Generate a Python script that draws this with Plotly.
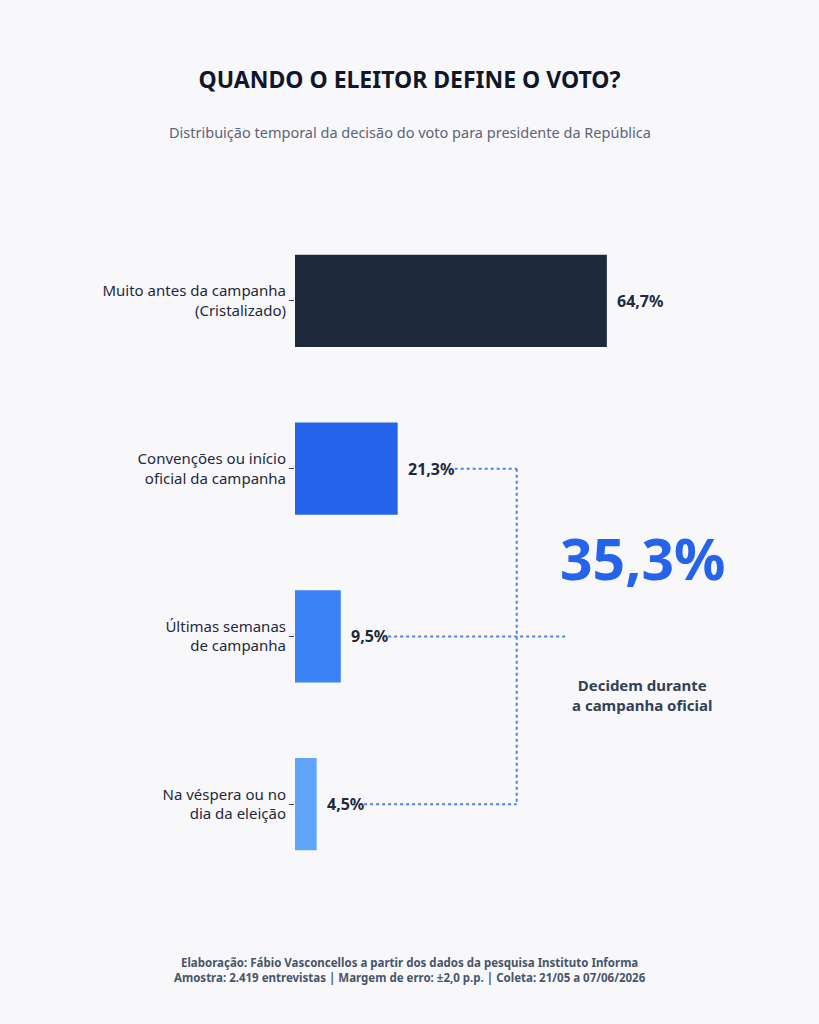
import plotly.graph_objects as go

CATEGORIES = [
    "Muito antes da campanha<br>(Cristalizado)",
    "Convenções ou início<br>oficial da campanha",
    "Últimas semanas<br>de campanha",
    "Na véspera ou no<br>dia da eleição",
]
VALUES = [64.7, 21.3, 9.5, 4.5]
LABELS = ["64,7%", "21,3%", "9,5%", "4,5%"]
COLORS = ["#1e293b", "#2563eb", "#3b82f6", "#60a5fa"]
TOTAL_LABEL = "35,3%"
BRACKET_X = 46
BRACKET_TIP = 56.5

FONT = "Noto Sans"
BG = "#f8f8fb"
LINE = "#4f7ff0"

fig = go.Figure()
fig.add_trace(go.Bar(
    y=CATEGORIES, x=VALUES, orientation="h",
    marker=dict(color=COLORS, line=dict(width=0)),
    hoverinfo="skip", showlegend=False,
))

# value labels just past each bar
for cat, val, lab in zip(CATEGORIES, VALUES, LABELS):
    fig.add_annotation(x=val, y=cat, text=f"<b>{lab}</b>", showarrow=False,
                       xanchor="left", xshift=8,
                       font=dict(family=FONT, size=16, color="#1e293b"))


def label_end(i):
    # data units: gap + approx. text width, 4.82 px per unit
    return VALUES[i] + (9 + 9.6 * len(LABELS[i])) / 4.82


dot = dict(color=LINE, width=2, dash="dot")
# connectors for the campaign group (rows 1..3)
for i, end in [(1, BRACKET_X), (2, BRACKET_TIP), (3, BRACKET_X)]:
    fig.add_shape(type="line", x0=label_end(i), x1=end, y0=CATEGORIES[i], y1=CATEGORIES[i],
                  line=dot, layer="below")
fig.add_shape(type="line", x0=BRACKET_X, x1=BRACKET_X, y0=CATEGORIES[1], y1=CATEGORIES[3],
              line=dot, layer="below")

fig.add_annotation(x=72, y=1.53, xref="x", yref="y", text=f"<b>{TOTAL_LABEL}</b>",
                   showarrow=False, font=dict(family=FONT, size=57, color="#2563eb"))
fig.add_annotation(x=72, y=2.35, xref="x", yref="y",
                   text="<b>Decidem durante<br>a campanha oficial</b>", showarrow=False,
                   font=dict(family=FONT, size=15, color="#334155"))

fig.add_annotation(x=0.2376, y=1.145, xref="paper", yref="paper", xanchor="center",
                   text="Distribuição temporal da decisão do voto para presidente da República",
                   showarrow=False, font=dict(family=FONT, size=14.5, color="#5b6478"))
fig.add_annotation(x=0.2376, y=-0.148, xref="paper", yref="paper", xanchor="center",
                   text="<b>Elaboração: Fábio Vasconcellos a partir dos dados da pesquisa Instituto Informa<br>"
                        "Amostra: 2.419 entrevistas | Margem de erro: ±2,0 p.p. | Coleta: 21/05 a 07/06/2026</b>",
                   showarrow=False, font=dict(family=FONT, size=11.5, color="#475569"))

fig.update_xaxes(range=[0, 100], visible=False, fixedrange=True)
fig.update_yaxes(autorange="reversed", ticks="outside", ticklen=5, tickcolor="#334155",
                 showgrid=False, showline=False, zeroline=False, fixedrange=True,
                 tickfont=dict(family=FONT, size=15, color="#1e293b"))

fig.update_layout(
    width=819, height=1024,
    title=dict(text="<b>QUANDO O ELEITOR DEFINE O VOTO?</b>", x=0.5, xanchor="center",
               y=1 - 80 / 1024, yanchor="middle",
               font=dict(family=FONT, size=23, color="#0f172a")),
    bargap=0.45,
    plot_bgcolor=BG, paper_bgcolor=BG,
    margin=dict(l=295, r=42, t=217, b=136),
    font=dict(family=FONT),
)

fig.write_html("out.html", config={"displayModeBar": False},
               post_script="document.body.style.margin='0';")
